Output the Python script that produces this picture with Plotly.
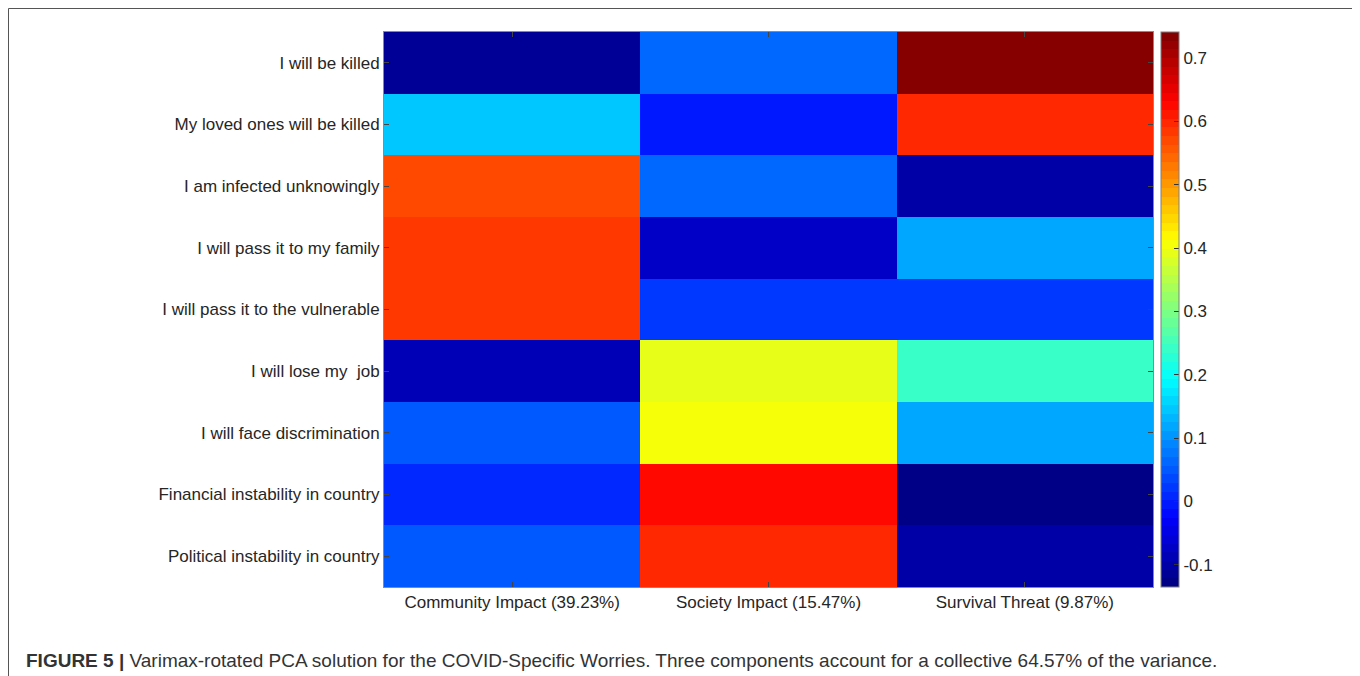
import plotly.graph_objects as go

items = [
    "I will be killed",
    "My loved ones will be killed",
    "I am infected unknowingly",
    "I will pass it to my family",
    "I will pass it to the vulnerable",
    "I will lose my\u00a0 job",
    "I will face discrimination",
    "Financial instability in country",
    "Political instability in country",
]
components = ["Community Impact (39.23%)", "Society Impact (15.47%)", "Survival Threat (9.87%)"]

community = [-0.115, 0.150, 0.567, 0.580, 0.580, -0.090, 0.052, 0.013, 0.056]
society = [0.060, 0.001, 0.069, -0.069, 0.026, 0.386, 0.399, 0.618, 0.593]
survival = [0.741, 0.593, -0.099, 0.125, 0.026, 0.236, 0.125, -0.135, -0.107]

cbar_ticks = [-0.1, 0, 0.1, 0.2, 0.3, 0.4, 0.5, 0.6, 0.7]
cbar_labels = ["-0.1", "0", "0.1", "0.2", "0.3", "0.4", "0.5", "0.6", "0.7"]

caption = ("<b>FIGURE 5 |</b> Varimax-rotated PCA solution for the COVID-Specific Worries. "
           "Three components account for a collective 64.57% of the variance.")

# MATLAB-style jet colormap, 64 discrete levels
def jet(t):
    clip = lambda v: max(0.0, min(1.0, v))
    r = clip(1.5 - abs(4 * t - 3))
    g = clip(1.5 - abs(4 * t - 2))
    b = clip(1.5 - abs(4 * t - 1))
    return "rgb(%d,%d,%d)" % (round(r * 255), round(g * 255), round(b * 255))

N = 64
colorscale = []
for i in range(N):
    c = jet((i + 0.5) / N)
    colorscale.append([i / N, c])
    colorscale.append([(i + 1) / N, c])

z = [[community[i], society[i], survival[i]] for i in range(len(items))]
all_vals = community + society + survival

# page offset of the plot div (default body margin)
OFF = 8
W, H = 1360 - OFF, 676 - OFF
L, T = 384 - OFF, 32 - OFF
R = W - (1153 - OFF)
B = H - (587 - OFF)
pw, ph = W - L - R, H - T - B

def px_x(x):
    return (x - OFF - L) / pw

def px_y(y):
    return (H - B - (y - OFF)) / ph

font = "Liberation Sans, Arial, Helvetica, sans-serif"
tick_size = 17

fig = go.Figure(go.Heatmap(
    z=z, x=components, y=items,
    colorscale=colorscale,
    zmin=min(all_vals), zmax=max(all_vals),
    xgap=0, ygap=0,
    colorbar=dict(
        x=px_x(1161), xanchor="left", xref="paper", xpad=0, ypad=0,
        y=0.5, yanchor="middle", len=1, lenmode="fraction",
        thickness=18, thicknessmode="pixels",
        outlinecolor="#7f7f7f", outlinewidth=1,
        tickvals=cbar_ticks, ticktext=cbar_labels,
        ticks="inside", ticklen=5, tickcolor="#333333",
        tickfont=dict(family=font, size=tick_size, color="#262626"),
    ),
))

fig.update_xaxes(
    showline=True, mirror="ticks", linecolor="#8a8a8a", linewidth=1,
    ticks="inside", ticklen=5, tickcolor="#444444",
    tickfont=dict(family=font, size=tick_size, color="#262626"),
    showgrid=False, zeroline=False,
)
fig.update_yaxes(
    autorange="reversed",
    showline=True, mirror="ticks", linecolor="#8a8a8a", linewidth=1,
    ticks="inside", ticklen=5, tickcolor="#444444",
    tickfont=dict(family=font, size=tick_size, color="#262626"),
    showgrid=False, zeroline=False,
)

fig.update_layout(
    width=W, height=H,
    margin=dict(l=L, r=R, t=T, b=B, pad=0),
    paper_bgcolor="white", plot_bgcolor="white",
    shapes=[dict(
        type="rect", xref="paper", yref="paper",
        x0=px_x(8.5), x1=px_x(1355), y0=px_y(720), y1=px_y(8.5),
        line=dict(color="#555555", width=1), fillcolor="rgba(0,0,0,0)",
        layer="below",
    )],
    annotations=[dict(
        text=caption, xref="paper", yref="paper",
        x=px_x(24), y=px_y(660), xanchor="left", yanchor="middle",
        showarrow=False,
        font=dict(family=font, size=19, color="#333333"),
    )],
)

fig.write_html("out.html")
